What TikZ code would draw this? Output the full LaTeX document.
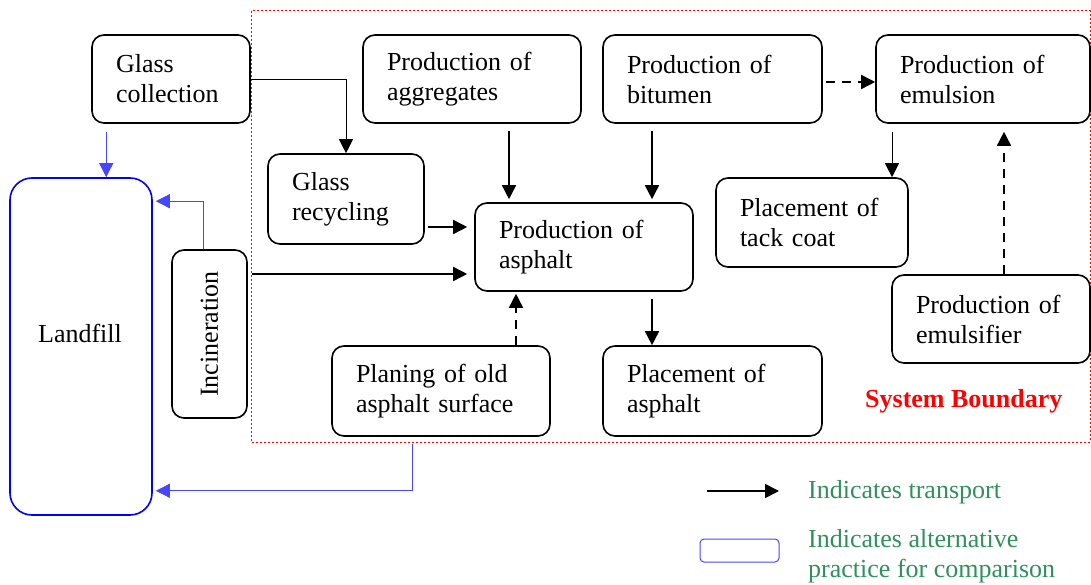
\documentclass[tikz,border=0pt]{standalone}
\usepackage{fontspec}
\setmainfont{Liberation Serif}
\usetikzlibrary{arrows.meta,calc}
\definecolor{legendgreen}{RGB}{46,145,92}
\definecolor{connblue}{RGB}{70,70,255}
\definecolor{conngray}{RGB}{110,110,110}
\newcommand{\boxfont}{\fontsize{26}{30}\selectfont}
\tikzset{
  procbox/.style={draw=black, line width=1.6pt, rounded corners=12pt, align=left,
    inner xsep=24pt, inner ysep=0pt, font=\boxfont, minimum height=88pt},
  altbox/.style={draw=blue, line width=1.6pt, rounded corners=22pt, inner sep=0pt},
  tip/.style={-{Triangle[length=14pt,width=14pt]}},
  transport/.style={tip, line width=1.6pt},
  dashtransport/.style={tip, line width=1.6pt, dash pattern=on 9pt off 7pt},
  blueconn/.style={tip, draw=connblue, color=connblue, line width=0.9pt},
  grayconn/.style={tip, draw=conngray, color=black, line width=0.9pt},
  boundary/.style={draw=red, line width=1pt, dash pattern=on 2pt off 2pt},
  legendtext/.style={text=legendgreen, font=\boxfont, align=left, inner sep=0pt}
}
\begin{document}
\begin{tikzpicture}[x=1pt, y=-1pt]
\useasboundingbox (0,0) rectangle (1091,585);

% system boundary
\draw[boundary] (251,11) rectangle (1090,442);
\node[text=red, font=\boxfont\bfseries, anchor=base west, inner sep=0pt] (sysb) at (865,407) {System Boundary};

% process boxes
\node[procbox, text width=110pt] (gc) at (171,79) {Glass\\collection};
\node[procbox, text width=170pt] (agg) at (472,79) {Production of\\aggregates};
\node[procbox, text width=171pt] (bit) at (712.5,79) {Production of\\bitumen};
\node[procbox, text width=166pt] (emu) at (983,79) {Production of\\emulsion};
\node[procbox, text width=108pt, minimum height=90pt] (gr) at (346,199) {Glass\\recycling};
\node[procbox, text width=170pt] (asp) at (584,247) {Production of\\asphalt};
\node[procbox, text width=144pt, minimum height=89pt] (tack) at (812,222.5) {Placement of\\tack coat};
\node[procbox, text width=150pt] (emf) at (991,319) {Production of\\emulsifier};
\node[procbox, text width=170pt, minimum height=90pt] (plan) at (441,391) {Planing of old\\asphalt surface};
\node[procbox, text width=171pt, minimum height=90pt] (pasp) at (712.5,391) {Placement of\\asphalt};
\node[procbox, align=center, inner xsep=0pt, minimum width=75pt, minimum height=168pt] (inc) at (209.5,334) {\rotatebox{90}{Incineration}};

% landfill, the alternative practice
\node[altbox, minimum width=142pt, minimum height=337pt] (landfill) at (81,346.5) {};
\node[font=\boxfont, anchor=base, inner sep=0pt] (landfilltxt) at (80,342) {Landfill};

% transport links
\draw[grayconn] (gc.east) -| (gr.north);
\draw[transport, shorten >=7pt] ([xshift=3pt,yshift=-28pt]gr.east) coordinate (g1) -- (g1 -| asp.west);
\draw[transport, shorten >=7pt] ([xshift=4pt,yshift=60pt]inc.east) coordinate (i1) -- (i1 -| asp.west);
\draw[transport, shorten <=7pt, shorten >=3pt] ([xshift=37pt]agg.south) coordinate (a1) -- (a1 |- asp.north);
\draw[transport, shorten <=7pt, shorten >=3pt] ([xshift=-60.5pt]bit.south) coordinate (b1) -- (b1 |- asp.north);
\draw[dashtransport, shorten <=3pt] ([yshift=-3pt]bit.east) coordinate (b2) -- (b2 -| emu.west);
\draw[grayconn, shorten <=8pt] ([xshift=-91pt]emu.south) coordinate (e1) -- (e1 |- tack.north);
\draw[dashtransport, shorten >=8pt] ([xshift=13pt]emf.north) coordinate (f1) -- (f1 |- emu.south);
\draw[transport, shorten <=7pt] ([xshift=68pt]asp.south) coordinate (p1) -- (p1 |- pasp.north);
\draw[dashtransport, shorten >=2pt] ([xshift=75pt]plan.north) coordinate (o1) -- (o1 |- asp.south);

% links to landfill
\draw[blueconn, shorten <=8pt] ([xshift=15pt]gc.south west) coordinate (l1) -- (l1 |- landfill.north);
\draw[blueconn] ([xshift=-6pt]inc.north) |- ([xshift=3pt,yshift=-24pt]landfill.north east);
\draw[blueconn] ([xshift=-29pt,yshift=-7pt]plan.south) |- ([xshift=3pt,yshift=25pt]landfill.south east);

% legend
\coordinate (lgA) at (707,491);
\coordinate (lgB) at (779,491);
\draw[transport] (lgA) -- (lgB);
\node[legendtext, anchor=west] (lgT) at (808,492) {Indicates transport};
\node[draw=connblue, line width=1pt, rounded corners=4pt, minimum width=79pt, minimum height=23pt, inner sep=0pt] (lgBox) at (739.5,550.5) {};
\node[legendtext, anchor=west] (lgAlt) at (808,556) {Indicates alternative\\practice for comparison};
\end{tikzpicture}
\end{document}
